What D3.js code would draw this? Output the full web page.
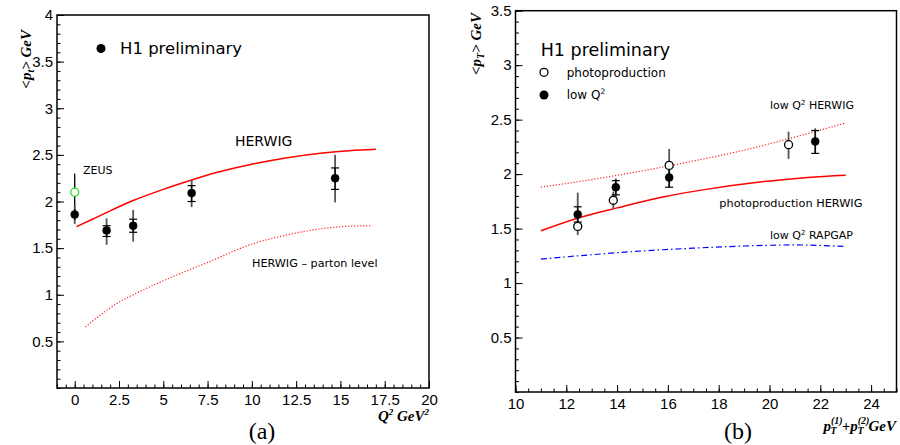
<!DOCTYPE html>
<html>
<head>
<meta charset="utf-8">
<script src="https://cdn.jsdelivr.net/npm/d3@7"></script>
<style>
  body { margin: 0; background: #fff; }
  .tick text { font-family: "Liberation Sans", Arial, sans-serif; font-size: 15px; fill: #000; }
  .tick line { stroke: #000; stroke-width: 1; }
  .lbl { font-family: "DejaVu Sans", sans-serif; fill: #000; }
  .ax { font-family: "Liberation Serif", serif; font-weight: bold; font-style: italic; fill: #000; }
</style>
</head>
<body>
<div class="chart"></div>
<script>
// ---- panel (a): <pt> vs Q^2 ----
var h1Q2 = [0, 1.8, 3.3, 6.6, 14.7];
var h1Pt = [1.86, 1.69, 1.74, 2.09, 2.25];
var h1StatLo = [1.80, 1.625, 1.67, 2.00, 2.13];
var h1StatHi = [1.92, 1.74, 1.81, 2.17, 2.36];
var h1TotLo = [1.76, 1.535, 1.57, 1.94, 1.99];
var h1TotHi = [1.95, 1.82, 1.91, 2.23, 2.50];

var zeusQ2 = [0];
var zeusPt = [2.1];
var zeusLo = [1.9];
var zeusHi = [2.3];

var herwigQ2 = [0.1, 1, 2, 3.3, 5, 6.6, 8, 10, 12, 14, 15.5, 17];
var herwigPt = [1.73, 1.81, 1.90, 2.01, 2.13, 2.23, 2.31, 2.40, 2.47, 2.52, 2.545, 2.56];

var partonQ2 = [0.6, 1.5, 2.5, 3.3, 5, 6.5, 7.8, 9, 10.1, 11.5, 12.7, 14, 15.5, 16.8];
var partonPt = [0.655, 0.79, 0.92, 1.0, 1.15, 1.27, 1.37, 1.47, 1.55, 1.62, 1.67, 1.71, 1.735, 1.74];

var aXTicks = [0, 2.5, 5, 7.5, 10, 12.5, 15, 17.5, 20];
var aYTicks = [0.5, 1, 1.5, 2, 2.5, 3, 3.5, 4];

// ---- panel (b): <pt> vs pT1+pT2 ----
var photoX = [12.45, 13.85, 16.05, 20.75];
var photoPt = [1.52, 1.76, 2.08, 2.27];
var photoLo = [1.44, 1.68, 1.98, 2.14];
var photoHi = [1.60, 1.84, 2.23, 2.39];

var lowQX = [12.45, 13.95, 16.05, 21.8];
var lowQPt = [1.63, 1.88, 1.97, 2.30];
var lowQStatLo = [1.56, 1.81, 1.88, 2.19];
var lowQStatHi = [1.70, 1.94, 2.06, 2.40];
var lowQTotLo = [1.50, 1.79, 1.88, 2.19];
var lowQTotHi = [1.83, 1.96, 2.06, 2.42];

var lowQHerwigX = [11, 13, 15, 17, 19, 21, 23];
var lowQHerwigPt = [1.88, 1.95, 2.03, 2.12, 2.22, 2.34, 2.47];

var photoHerwigX = [11, 12.5, 14, 15.8, 17.5, 19.7, 21.5, 23];
var photoHerwigPt = [1.48, 1.60, 1.69, 1.79, 1.86, 1.93, 1.97, 1.99];

var rapgapX = [11, 13, 15, 17, 19, 21, 23];
var rapgapPt = [1.22, 1.26, 1.295, 1.32, 1.34, 1.35, 1.335];

var bXTicks = [10, 12, 14, 16, 18, 20, 22, 24];
var bYTicks = [0.5, 1, 1.5, 2, 2.5, 3, 3.5];

var svg = d3.select(".chart").append("svg")
  .attr("width", 900)
  .attr("height", 445);

function zip(xs, ys) {
  return xs.map(function(x, i) { return [x, ys[i]]; });
}

// draws frame + axes and returns the scales
function makePanel(box, xDom, yDom, xMajor, yMajor, xMinorStep, yMinorStep) {
  var x = d3.scaleLinear().domain(xDom).range([box.left, box.right]);
  var y = d3.scaleLinear().domain(yDom).range([box.bottom, box.top]);

  var xMinor = d3.range(xDom[0], xDom[1] + 1e-9, xMinorStep);
  var yMinor = d3.range(yDom[0], yDom[1] + 1e-9, yMinorStep);

  svg.append("g")
    .attr("transform", `translate(0, ${box.bottom})`)
    .call(d3.axisBottom(x).tickValues(xMinor).tickSize(-3.5).tickFormat(""))
    .call(g => g.select(".domain").remove());
  svg.append("g")
    .attr("transform", `translate(0, ${box.bottom})`)
    .call(d3.axisBottom(x).tickValues(xMajor).tickSize(-7).tickPadding(6).tickFormat(d3.format("")))
    .call(g => g.select(".domain").remove());

  svg.append("g")
    .attr("transform", `translate(${box.left}, 0)`)
    .call(d3.axisLeft(y).tickValues(yMinor).tickSize(-3.5).tickFormat(""))
    .call(g => g.select(".domain").remove());
  svg.append("g")
    .attr("transform", `translate(${box.left}, 0)`)
    .call(d3.axisLeft(y).tickValues(yMajor).tickSize(-7).tickPadding(4).tickFormat(d3.format("")))
    .call(g => g.select(".domain").remove());

  svg.append("rect")
    .attr("x", box.left).attr("y", box.top)
    .attr("width", box.right - box.left).attr("height", box.bottom - box.top)
    .attr("fill", "none").attr("stroke", "#000").attr("stroke-width", 1.5);

  return { x: x, y: y };
}

function curve(p, xs, ys, color, width, dash) {
  var line = d3.line()
    .x(d => p.x(d[0]))
    .y(d => p.y(d[1]))
    .curve(d3.curveMonotoneX);
  svg.append("path")
    .datum(zip(xs, ys))
    .attr("d", line)
    .attr("fill", "none")
    .attr("stroke", color)
    .attr("stroke-width", width)
    .attr("stroke-dasharray", dash || null);
}

function bars(p, xs, lo, hi, color, width) {
  svg.append("g").selectAll("line")
    .data(xs)
    .enter().append("line")
    .attr("x1", d => p.x(d)).attr("x2", d => p.x(d))
    .attr("y1", (d, i) => p.y(lo[i])).attr("y2", (d, i) => p.y(hi[i]))
    .attr("stroke", color).attr("stroke-width", width);
}

function caps(p, xs, vals) {
  svg.append("g").selectAll("line")
    .data(xs)
    .enter().append("line")
    .attr("x1", d => p.x(d) - 4).attr("x2", d => p.x(d) + 4)
    .attr("y1", (d, i) => p.y(vals[i])).attr("y2", (d, i) => p.y(vals[i]))
    .attr("stroke", "#000").attr("stroke-width", 1.2);
}

function markers(p, xs, ys, filled, color) {
  svg.append("g").selectAll("circle")
    .data(xs)
    .enter().append("circle")
    .attr("cx", d => p.x(d))
    .attr("cy", (d, i) => p.y(ys[i]))
    .attr("r", filled ? 4 : 4)
    .attr("fill", filled ? color : "#fff")
    .attr("stroke", color)
    .attr("stroke-width", filled ? 0.5 : 1.3);
}

function label(x, y, txt, size, weight, anchor) {
  return svg.append("text")
    .attr("class", "lbl")
    .attr("x", x).attr("y", y)
    .attr("font-size", size)
    .attr("font-weight", weight || "normal")
    .attr("text-anchor", anchor || "start")
    .text(txt);
}

// ================= panel (a) =================
var pa = makePanel({ left: 57, right: 429, top: 15, bottom: 388 },
  [-1, 20], [0, 4], aXTicks, aYTicks, 0.5, 0.1);

curve(pa, partonQ2, partonPt, "#ff2020", 1.2, "1.2,1.8");
curve(pa, herwigQ2, herwigPt, "#ff0000", 1.5);

bars(pa, zeusQ2, zeusLo, zeusHi, "#000", 1.3);
bars(pa, h1Q2, h1TotLo, h1TotHi, "#555", 1.8);
bars(pa, h1Q2, h1StatLo, h1StatHi, "#000", 1.2);
caps(pa, h1Q2.slice(1), h1StatLo.slice(1));
caps(pa, h1Q2.slice(1), h1StatHi.slice(1));
markers(pa, zeusQ2, zeusPt, false, "#22dd22");
markers(pa, h1Q2, h1Pt, true, "#000");

svg.append("circle").attr("cx", 101).attr("cy", 48.5).attr("r", 4.5).attr("fill", "#000");
label(120, 53.5, "H1 preliminary", 16.5);
label(235, 146, "HERWIG", 14);
label(83, 174, "ZEUS", 11);
label(252, 267, "HERWIG \u2013 parton level", 11.2);

svg.append("text").attr("class", "ax")
  .attr("transform", "rotate(-90)")
  .attr("x", -30).attr("y", 31)
  .attr("text-anchor", "end")
  .attr("font-size", 15)
  .html('&lt;p<tspan font-size="10" dy="3">t</tspan><tspan dy="-3">&gt; GeV</tspan>');

svg.append("text").attr("class", "ax")
  .attr("x", 429).attr("y", 421)
  .attr("text-anchor", "end")
  .attr("font-size", 15)
  .html('Q<tspan font-size="9" dy="-6">2</tspan><tspan dy="6"> GeV</tspan><tspan font-size="9" dy="-6">2</tspan>');

svg.append("text")
  .attr("x", 262).attr("y", 439)
  .attr("text-anchor", "middle")
  .attr("font-family", "Liberation Serif, serif")
  .attr("font-size", 24)
  .text("(a)");

// ================= panel (b) =================
var pb = makePanel({ left: 515.5, right: 896.5, top: 10.7, bottom: 392 },
  [10, 25], [0, 3.5], bXTicks, bYTicks, 0.5, 0.1);

curve(pb, lowQHerwigX, lowQHerwigPt, "#ff2020", 1.2, "1.2,1.8");
curve(pb, photoHerwigX, photoHerwigPt, "#ff0000", 1.5);
curve(pb, rapgapX, rapgapPt, "#0000ff", 1.2, "6,3,1.5,3");

bars(pb, photoX, photoLo, photoHi, "#555", 1.8);
bars(pb, lowQX, lowQTotLo, lowQTotHi, "#555", 1.8);
bars(pb, lowQX, lowQStatLo, lowQStatHi, "#000", 1.2);
caps(pb, lowQX, lowQStatLo);
caps(pb, lowQX, lowQStatHi);
markers(pb, photoX, photoPt, false, "#000");
markers(pb, lowQX, lowQPt, true, "#000");

label(540.7, 56, "H1 preliminary", 17.5);
svg.append("circle").attr("cx", 544).attr("cy", 72.3).attr("r", 4)
  .attr("fill", "#fff").attr("stroke", "#000").attr("stroke-width", 1.3);
label(566.7, 76.5, "photoproduction", 12);
svg.append("circle").attr("cx", 544).attr("cy", 95).attr("r", 4.5).attr("fill", "#000");
label(566.7, 98.5, "low  Q", 12).append("tspan")
  .attr("font-size", 7.5).attr("dy", -5).text("2");

label(770, 109, "low Q", 11).call(t => {
  t.append("tspan").attr("font-size", 7).attr("dy", -4.5).text("2");
  t.append("tspan").attr("dy", 4.5).text(" HERWIG");
});
label(719.3, 207, "photoproduction HERWIG", 11.3);
label(770, 239, "low Q", 11).call(t => {
  t.append("tspan").attr("font-size", 7).attr("dy", -4.5).text("2");
  t.append("tspan").attr("dy", 4.5).text(" RAPGAP");
});

svg.append("text").attr("class", "ax")
  .attr("transform", "rotate(-90)")
  .attr("x", -13).attr("y", 481)
  .attr("text-anchor", "end")
  .attr("font-size", 15)
  .html('&lt;p<tspan font-size="10" dy="3">T</tspan><tspan dy="-3">&gt; GeV</tspan>');

svg.append("text").attr("class", "ax")
  .attr("x", 896).attr("y", 431)
  .attr("text-anchor", "end")
  .attr("font-size", 15)
  .html('p<tspan font-size="10" dy="-7">(1)</tspan><tspan font-size="10" dx="-12" dy="10">T</tspan>' +
        '<tspan dx="5" dy="-3">+p</tspan><tspan font-size="10" dy="-7">(2)</tspan><tspan font-size="10" dx="-12" dy="10">T</tspan>' +
        '<tspan dx="5" dy="-3">GeV</tspan>');

svg.append("text")
  .attr("x", 738).attr("y", 439)
  .attr("text-anchor", "middle")
  .attr("font-family", "Liberation Serif, serif")
  .attr("font-size", 24)
  .text("(b)");
</script>
</body>
</html>
